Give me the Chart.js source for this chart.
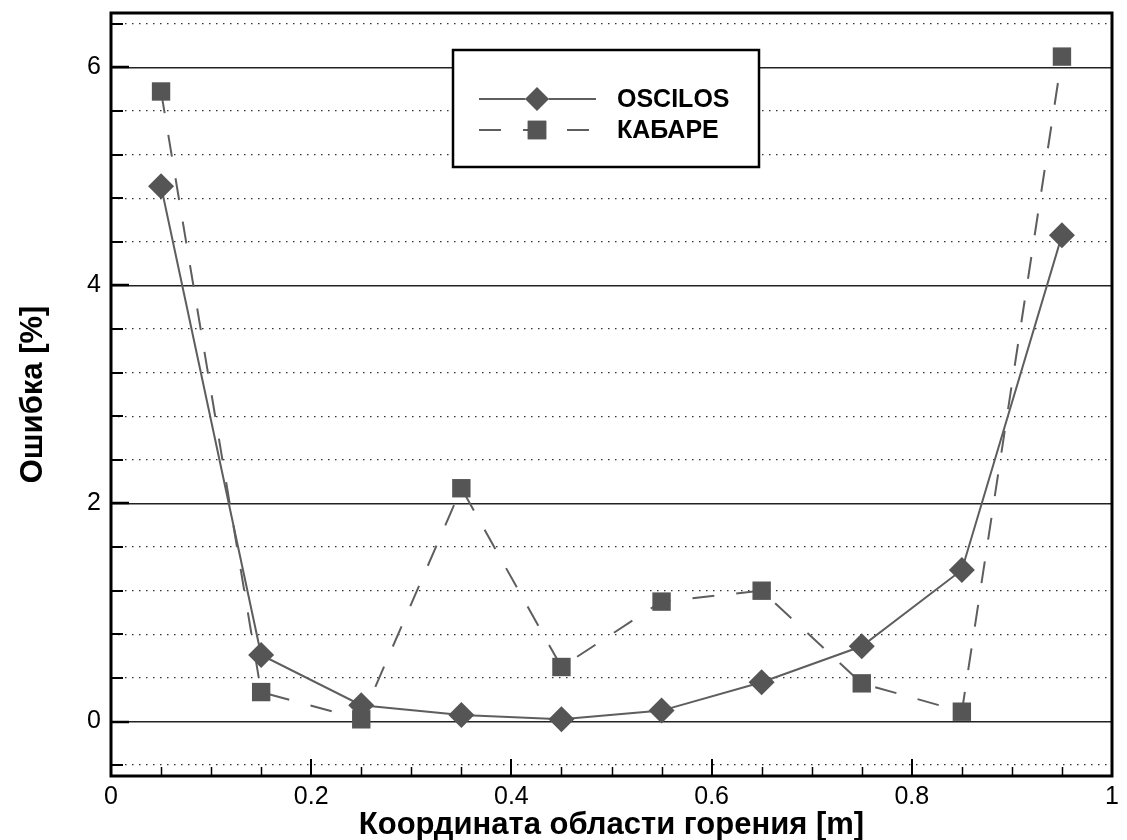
<!DOCTYPE html>
<html>
<head>
<meta charset="utf-8">
<script src="https://cdn.jsdelivr.net/npm/chart.js@4"></script>
<style>
  html, body { margin: 0; padding: 0; background: #fff; }
  #wrap { width: 1127px; height: 840px; }
</style>
</head>
<body>
<div id="wrap"><canvas id="chart"></canvas></div>
<script>
// data
const xValues = [0.05, 0.15, 0.25, 0.35, 0.45, 0.55, 0.65, 0.75, 0.85, 0.95];
const osciloValues = [4.91, 0.61, 0.15, 0.06, 0.02, 0.10, 0.36, 0.69, 1.39, 4.46];
const kabareValues = [5.78, 0.27, 0.02, 2.14, 0.50, 1.10, 1.20, 0.35, 0.09, 6.10];

// axis ticks
const xMajorTicks = [0, 0.2, 0.4, 0.6, 0.8, 1];
const xMinorTicks = [0.05, 0.1, 0.15, 0.25, 0.3, 0.35, 0.45, 0.5, 0.55, 0.65, 0.7, 0.75, 0.85, 0.9, 0.95];
const yMajorTicks = [0, 2, 4, 6];
const yGridTicks = [-0.4, 0, 0.4, 0.8, 1.2, 1.6, 2, 2.4, 2.8, 3.2, 3.6, 4, 4.4, 4.8, 5.2, 5.6, 6, 6.4];

const FONT = "'Liberation Sans', Arial, Helvetica, sans-serif";
const markerColor = "#555555";
const lineColor = "#5e5e5e";

const isMajorY = (v) => yMajorTicks.some((m) => Math.abs(m - v) < 1e-6);

// frame, inward ticks and the boxed legend
const decorations = {
  id: "decorations",
  afterDraw(chart) {
    const ctx = chart.ctx;
    const area = chart.chartArea;
    const xs = chart.scales.x;
    const ys = chart.scales.y;
    ctx.save();
    ctx.strokeStyle = "#000";

    // x ticks, pointing up from the bottom edge
    ctx.lineWidth = 2;
    xMajorTicks.forEach((v) => {
      const px = Math.round(xs.getPixelForValue(v));
      ctx.beginPath();
      ctx.moveTo(px, area.bottom);
      ctx.lineTo(px, area.bottom - 17);
      ctx.stroke();
    });
    ctx.lineWidth = 1.5;
    xMinorTicks.forEach((v) => {
      const px = Math.round(xs.getPixelForValue(v)) + 0.5;
      ctx.beginPath();
      ctx.moveTo(px, area.bottom);
      ctx.lineTo(px, area.bottom - 9);
      ctx.stroke();
    });

    // y ticks, pointing right from the left edge
    yGridTicks.forEach((v) => {
      const py = Math.round(ys.getPixelForValue(v));
      const major = isMajorY(v);
      ctx.lineWidth = major ? 2.5 : 2;
      ctx.beginPath();
      ctx.moveTo(area.left, py);
      ctx.lineTo(area.left + (major ? 18 : 12), py);
      ctx.stroke();
    });

    // frame
    ctx.lineWidth = 3;
    ctx.strokeRect(area.left, area.top, area.right - area.left, area.bottom - area.top);

    // legend box
    const bx = 453, by = 50, bw = 306, bh = 117;
    ctx.fillStyle = "#fff";
    ctx.fillRect(bx, by, bw, bh);
    ctx.lineWidth = 2.5;
    ctx.strokeRect(bx, by, bw, bh);

    const rows = [
      { ds: chart.data.datasets[0], y: 99 },
      { ds: chart.data.datasets[1], y: 130 }
    ];
    rows.forEach((row) => {
      const ds = row.ds;
      ctx.strokeStyle = ds.borderColor;
      ctx.lineWidth = ds.borderWidth;
      ctx.setLineDash(ds.borderDash || []);
      ctx.beginPath();
      ctx.moveTo(479, row.y);
      ctx.lineTo(596, row.y);
      ctx.stroke();
      ctx.setLineDash([]);
      Chart.helpers.drawPoint(ctx, {
        pointStyle: ds.pointStyle,
        radius: ds.pointStyle === "rect" ? 13 : 12,
        rotation: 0,
        borderWidth: 0
      }, 537, row.y);
      ctx.fillStyle = ds.pointBackgroundColor;
      ctx.fill();
      ctx.fillStyle = "#000";
      ctx.font = "bold 25px " + FONT;
      ctx.textBaseline = "middle";
      ctx.textAlign = "left";
      ctx.fillText(ds.label, 617, row.y + 1);
    });
    ctx.restore();
  }
};

new Chart(document.getElementById("chart"), {
  type: "line",
  data: {
    labels: xValues,
    datasets: [
      {
        label: "OSCILOS",
        data: xValues.map((x, i) => ({ x: x, y: osciloValues[i] })),
        borderColor: lineColor,
        borderWidth: 2,
        pointStyle: "rectRot",
        pointRadius: 13,
        pointBackgroundColor: markerColor,
        pointBorderWidth: 0,
        tension: 0,
        fill: false
      },
      {
        label: "КАБАРЕ",
        data: xValues.map((x, i) => ({ x: x, y: kabareValues[i] })),
        borderColor: lineColor,
        borderWidth: 2,
        borderDash: [22, 22],
        pointStyle: "rect",
        pointRadius: 13,
        pointBackgroundColor: markerColor,
        pointBorderWidth: 0,
        tension: 0,
        fill: false
      }
    ]
  },
  options: {
    responsive: true,
    maintainAspectRatio: false,
    animation: false,
    events: [],
    layout: { padding: { top: 9, right: 15, left: 0, bottom: 0 } },
    plugins: {
      legend: { display: false },
      tooltip: { enabled: false }
    },
    scales: {
      x: {
        type: "linear",
        min: 0,
        max: 1,
        afterBuildTicks: (scale) => {
          scale.ticks = xMajorTicks.map((v) => ({ value: v }));
        },
        afterFit: (scale) => {
          scale.height = 64;
          scale.paddingLeft = 0;
          scale.paddingRight = 0;
        },
        grid: { display: false, drawTicks: false },
        border: { display: false },
        ticks: {
          padding: 6,
          color: "#000",
          font: { family: FONT, size: 25 },
          maxRotation: 0,
          callback: (v) => String(v)
        },
        title: {
          display: true,
          text: "Координата области горения [m]",
          color: "#000",
          font: { family: FONT, size: 31, weight: "bold" },
          padding: { top: 0, bottom: -4 }
        }
      },
      y: {
        type: "linear",
        min: -0.5,
        max: 6.5,
        afterBuildTicks: (scale) => {
          scale.ticks = yGridTicks.map((v) => ({ value: v }));
        },
        afterFit: (scale) => {
          scale.width = 111;
          scale.paddingTop = 0;
          scale.paddingBottom = 0;
        },
        grid: {
          drawTicks: false,
          color: (c) => (isMajorY(c.tick.value) ? "#222" : "#333"),
          lineWidth: (c) => (isMajorY(c.tick.value) ? 1.5 : 1.3)
        },
        border: {
          display: false,
          dash: (c) => (c.tick && isMajorY(c.tick.value) ? [] : [1.5, 5.5])
        },
        ticks: {
          padding: 10,
          color: "#000",
          font: { family: FONT, size: 25, lineHeight: 0.4 },
          autoSkip: false,
          callback: (v) => (isMajorY(v) ? String(v) : "")
        },
        title: {
          display: true,
          text: "Ошибка [%]",
          color: "#000",
          font: { family: FONT, size: 31, weight: "bold" },
          padding: { top: 15, bottom: 0 }
        }
      }
    }
  },
  plugins: [decorations]
});
</script>
</body>
</html>
